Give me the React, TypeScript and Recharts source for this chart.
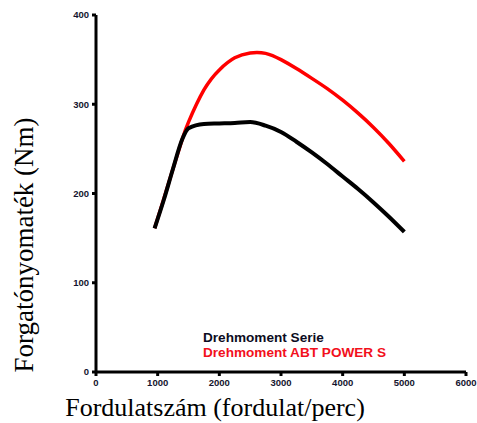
import { Line, LineChart, XAxis, YAxis, Label } from "recharts";

const rpm = [950, 1100, 1250, 1400, 1500, 1750, 2000, 2250, 2500, 2750, 3000, 3250, 3500, 3750, 4000, 4250, 4500, 4750, 5000];
const serie = [161, 193, 228, 261, 273, 278, 278.5, 279, 280, 276, 269, 258, 246, 233, 219, 205, 190, 174, 157];
const abt = [161, 194, 228, 261, 280, 316, 338.5, 352, 357.5, 357, 350, 340, 329, 317.5, 304.5, 290, 274, 256, 236];

const xTicks = [0, 1000, 2000, 3000, 4000, 5000, 6000];
const yTicks = [0, 100, 200, 300, 400];

const legendItems = [
  { label: "Drehmoment Serie", color: "#0c0c22" },
  { label: "Drehmoment ABT POWER S", color: "#f2101c" },
];

const data = rpm.map((r, i) => ({ rpm: r, serie: serie[i], abt: abt[i] }));

const tickStyle = { fill: "#14142e", fontSize: 9.5, fontWeight: 700, fontFamily: "Liberation Sans, Arial, sans-serif" };

function XTitle() {
  return (
    <text x={215} y={416} textAnchor="middle" fontFamily="Liberation Serif, Times New Roman, serif" fontSize={26} fill="#000">
      Fordulatszám (fordulat/perc)
    </text>
  );
}

function YTitle() {
  return (
    <g>
      <text x={33} y={245} textAnchor="middle" transform="rotate(-90, 33, 245)" fontFamily="Liberation Serif, Times New Roman, serif" fontSize={27} fill="#000">
        Forgatónyomaték (Nm)
      </text>
      {/* legend sits inside the plot, under the curves */}
      {legendItems.map((it, i) => (
        <text
          key={it.label}
          x={203}
          y={342 + i * 14.5}
          fontFamily="Liberation Sans, Arial, sans-serif"
          fontWeight={700}
          fontSize={13.6}
          fill={it.color}
        >
          {it.label}
        </text>
      ))}
    </g>
  );
}

export default function App() {
  return (
    <div style={{ position: "absolute", left: 0, top: 0, background: "#fff" }}>
      <LineChart width={477} height={423} data={data} margin={{ top: 15, right: 11, left: 0, bottom: 0 }}>
        <XAxis
          dataKey="rpm"
          type="number"
          domain={[0, 6000]}
          ticks={xTicks}
          interval={0}
          height={51}
          stroke="#000"
          strokeWidth={3}
          tickSize={4}
          tick={tickStyle}
          tickMargin={3}
        >
          <Label content={<XTitle />} />
        </XAxis>
        <YAxis
          type="number"
          domain={[0, 400]}
          ticks={yTicks}
          interval={0}
          width={96}
          stroke="#000"
          strokeWidth={3}
          tickSize={4}
          tick={tickStyle}
          tickMargin={3}
        >
          <Label content={<YTitle />} />
        </YAxis>
        <Line type="natural" dataKey="abt" stroke="#ff0000" strokeWidth={3.5} dot={false} isAnimationActive={false} />
        <Line type="monotone" dataKey="serie" stroke="#000" strokeWidth={4} dot={false} isAnimationActive={false} />
      </LineChart>
    </div>
  );
}
